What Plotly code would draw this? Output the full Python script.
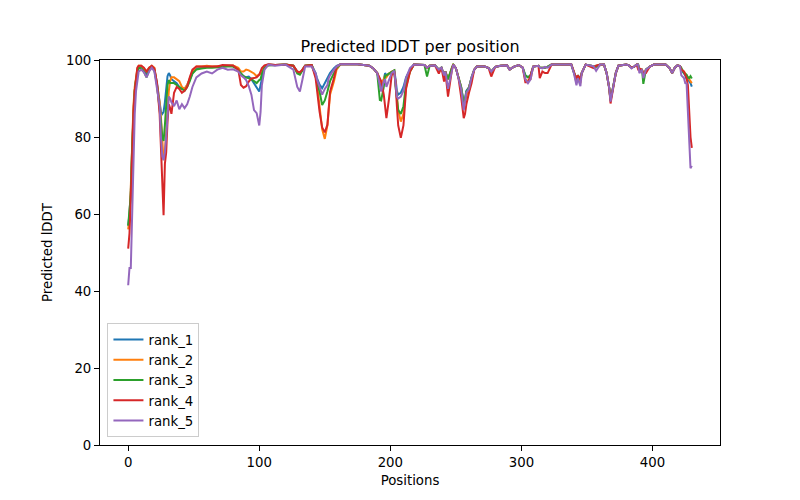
import plotly.graph_objects as go

POS = [0,1,2,3,4,5,6,7,8,10,
       12,14,16,18,20,22,24,25,26,27,
       28,29,30,31,32,33,35,37,39,41,
       43,45,47,49,52,56,60,64,68,72,
       76,80,84,86,88,90,92,94,96,98,
       100,101,102,104,107,112,120,126,129,131,
       133,135,140,143,144,146,148,150,152,153,
       154,157,159,162,175,184,187,190,192,193,
       195,196,197,199,201,203,204,205,206,208,
       210,212,215,218,226,228,230,234,237,239,
       241,242,244,247,248,250,252,254,256,257,
       258,260,262,264,266,272,275,277,280,284,
       289,291,294,298,301,303,305,307,309,313,
       314,316,318,320,323,335,338,340,342,343,
       345,346,349,355,357,360,363,365,367,368,
       370,372,374,380,382,384,386,388,389,390,
       392,393,395,398,401,410,413,415,417,419,
       421,422,424,425,426,427,428,429,430]

RANK_1 = [57,60,66,78,87,92,95.5,97.5,98.3,98.2,
          97.5,96.5,97.8,98.4,97.5,94,89,86.5,86,86.5,
          89,93,95.8,96.6,96,95,94.5,94,93,92.5,
          92.5,93.5,95,96.5,97.8,98,98.2,98.2,98.3,98.5,
          98.5,98.5,97.8,96.5,95.8,95.5,95.7,95,94,93,
          91.8,93.5,95.3,98,98.8,98.7,98.8,98.5,97,96.5,
          97.5,98.5,98.7,96.6,95.3,93.6,92.7,94,95.3,96,
          96.6,97.9,98.5,98.9,98.9,98.5,97.8,96.6,93.5,92.7,
          95,96.6,96,96.5,97,97.3,95,92,91,91.5,
          93,95.5,97.5,98.8,98.7,98,98.5,98.6,97.5,98,
          96,97,95,98,98.8,97.9,95.3,93,89,90,
          92,93,95.5,97.5,98.3,98.3,97.9,97,98.2,98.5,
          98.6,97.5,98.2,98.7,98,96,95.5,96,98.3,98.5,
          98,98,98,98.3,98.8,98.8,98.9,96.8,95,96,
          95,96.6,98.8,98.4,98.5,98.8,98.8,96.6,92.7,89.5,
          92.7,96.6,98.5,98.8,98.6,98,98.3,98.8,98.8,97.5,
          97.5,96,97.5,98.3,98.8,98.8,97.9,96.6,98,98.6,
          98.4,97.5,96.5,96,95,95.5,94.5,94,93.1]

RANK_2 = [56,59,67,80,88,93,96,97.8,98.5,98.5,
          97.8,97,98,98.5,98,94,89,85,78,74,
          76,82,88,92,94.5,95.5,95.5,95,94.5,93,
          92.5,93.5,95.5,97,98.3,98.3,98.5,98.3,98.4,98.5,
          98.5,98.6,98,97,97,97.5,97.3,97,96.5,95.8,
          96.2,96.5,97.3,98.3,98.8,98.7,98.8,98.5,97,96.5,
          97.5,98.5,98.7,96,94,88,82,79.5,83,87,
          91,94.5,97.5,98.9,98.9,98.5,97.8,96.6,95,94,
          95,96,95.5,96.5,97,97.3,94,91,87,84,
          86,93,97,98.8,98.7,98,98.5,98.6,97.5,98,
          96,97,95,98,98.8,97.9,95.3,93,88,89,
          90.5,93,95.5,97.5,98.3,98.3,97.9,97,98.2,98.5,
          98.6,97.5,98.2,98.7,98,95,94.5,95,98.3,98.5,
          98,98,98,98.3,98.8,98.8,98.9,97,94,95.5,
          94,96.6,98.8,98.4,98.5,98.8,98.8,96.6,92.7,89.5,
          92.7,96.6,98.5,98.8,98.6,98,98.3,98.8,98.8,97.5,
          97.5,96,97.5,98.3,98.8,98.8,97.9,96.6,98,98.6,
          98.4,97.5,97,96.5,96,95.5,95,94.7,94]

RANK_3 = [57,61,65,77,86,92,95,97,98,97.8,
          97,95.5,97.5,98.2,97.3,93.5,88,84,80,79,
          83,90,93.5,94.8,94,94,94,93.5,93,92.5,
          92,93,94.5,96.5,97.5,97.8,98,98,98.1,98.3,
          98.3,98.3,97.5,96.5,95.8,95.5,95.3,95,94.5,94,
          94.8,95,96.5,98,98.6,98.7,98.8,98.5,96.5,96.2,
          97.5,98.5,98.7,96,94,91.8,88.3,89.5,91.8,93.6,
          94.5,96.6,97.9,98.9,98.9,98.5,97.8,96.6,89.6,89.5,
          93,96,96,96.5,97,97.3,93,89,87,86,
          88,94,97,98.8,98.7,95.7,98.5,98.6,97.5,98,
          96,97,95,98,98.8,97.9,95.3,93,88.5,89.5,
          91.8,92.7,95.5,97.5,98.3,98.3,97.9,97,98.2,98.5,
          98.6,97.5,98.2,98.7,98,96,95.5,96,98.3,98.5,
          98,98,98,98.3,98.8,98.8,98.9,96.8,95,96,
          95,96.6,98.8,98.4,98.2,98.8,98.8,96.6,92.7,89.5,
          92.7,96.6,98.5,98.8,98.6,98,98.3,98.8,98.8,97.5,
          97.5,93.8,97.5,98.3,98.8,98.8,97.9,96.6,98,98.6,
          98.4,98,96.6,96.5,96.2,95.5,95.3,95.8,95.2]

RANK_4 = [51,55,64,77,86,92,96,98,98.5,98.5,
          98,97,98,98.5,97.8,94,86,78,72,59.7,
          73,76,84,88.5,87.5,86,91.5,93,92.5,91.5,
          92,93,95.5,97.5,98.3,98.3,98.3,98.2,98.3,98.7,
          98.7,98.6,97.5,93.5,92.8,93.2,94.4,95.2,95.3,95.5,
          96.2,97,97.9,98.6,98.9,98.7,98.8,98.5,97,96.8,
          97.5,98.5,98.7,95.3,91.8,86.6,82.5,81.2,83.2,87.5,
          91.8,95.3,98.3,98.9,98.9,98.5,97.8,96.6,95,94.5,
          91,87,84.9,90,96,97,94,88,83,79.8,
          83,92.5,97,98.8,98.7,98,98.5,98.6,96.5,98,
          94.4,97,90.5,97.5,98.8,97.9,95.3,90.5,84.9,86,
          88.5,91.5,94,97.5,98.3,98.3,97.9,95.7,98.2,98.5,
          98.6,97.5,98.2,98.7,98,94.2,94.2,96,98.3,98.5,
          95.3,97,96.6,96.6,98.8,98.8,98.9,97,95,96,
          95,96.6,98.8,97.9,98.5,98.8,98.8,96.6,92.7,88.7,
          92.7,96.6,98.5,98.8,98.6,98,98.3,98.8,97.6,97.8,
          97.5,96.6,96.6,98.3,98.8,98.8,97.9,96.6,98,98.6,
          98.4,97.5,97,96,95.3,93.5,86,80,77.2]

RANK_5 = [41.5,46,46,60,76,86,92,95.5,97,97.5,
          96.8,95.5,97,98,97,92.5,88,80,75,74,
          76,80,86,90.5,90,89,88,89.5,87.2,88.5,
          87.5,88.5,90.5,93,95.5,96.5,97,96.5,97.5,98,
          97.5,97.6,97,96,95.5,94.8,93.2,91,87,86.2,
          83,86.5,93.5,97.5,98.8,98.5,98.8,97.5,93,91.8,
          95,98.3,98.3,96.5,95,92.7,91,92.5,93.5,95.3,
          96,97.5,98.3,98.9,98.9,98.5,97.8,96.6,93,91.8,
          94.5,95,93,95,96.6,97.2,93,90.5,90,90.5,
          92,95.3,97.9,98.8,98.7,98,98.5,98.6,97.5,98,
          96,97,92.5,98,98.8,97.9,95.3,92.5,87,89,
          91.5,92.5,95.5,97.5,98.3,98.3,97.9,97,98.2,98.5,
          98.6,97.5,98.2,98.7,98,95,94,95,98.3,98.5,
          98,97.8,98.2,98,98.8,98.8,98.9,96.6,93.4,95.3,
          93.2,96.6,98.8,98.4,97.2,98.8,98.8,96.6,92.7,89.2,
          92.7,96.6,98.5,98.8,98.6,97.8,98.3,98.8,98.8,96.6,
          97.5,95.3,97.5,98.3,98.8,98.8,97.9,96.6,98,98.6,
          98.4,96,95.3,94,93.9,87,78,71.9,72.5]

NAMES = ["rank_1", "rank_2", "rank_3", "rank_4", "rank_5"]
COLORS = ["#1f77b4", "#ff7f0e", "#2ca02c", "#d62728", "#9467bd"]
SERIES = [RANK_1, RANK_2, RANK_3, RANK_4, RANK_5]
X_TICKS = [0, 100, 200, 300, 400]
Y_TICKS = [0, 20, 40, 60, 80, 100]

fig = go.Figure()
for name, ys, col in zip(NAMES, SERIES, COLORS):
    fig.add_trace(go.Scatter(x=POS, y=ys, mode="lines", name=name,
                             line=dict(color=col, width=2)))

axis_common = dict(showline=True, linecolor="black", linewidth=1, mirror=True,
                   ticks="outside", ticklen=5, tickwidth=1, tickcolor="black",
                   showgrid=False, zeroline=False,
                   tickfont=dict(size=13.3, color="black"))

fig.update_layout(
    width=800, height=500,
    margin=dict(l=92, r=88, t=52, b=63),
    plot_bgcolor="white", paper_bgcolor="white",
    font=dict(family="DejaVu Sans", size=13.3, color="black"),
    title=dict(text="Predicted lDDT per position", x=0.5, xref="paper", xanchor="center",
               y=1 - 38 / 500, yref="container", yanchor="middle",
               font=dict(size=16, color="black")),
    xaxis=dict(range=[-21.5, 451.5], tickvals=X_TICKS,
               title=dict(text="Positions", standoff=6, font=dict(size=13.3)), **axis_common),
    yaxis=dict(range=[0, 100], tickvals=Y_TICKS,
               title=dict(text="Predicted lDDT", standoff=10, font=dict(size=13.3)), **axis_common),
    legend=dict(x=0.012, y=0.02, xanchor="left", yanchor="bottom",
                bordercolor="#cccccc", borderwidth=1, bgcolor="rgba(255,255,255,0.8)",
                font=dict(size=13.3, color="black"), itemwidth=30, tracegroupgap=0),
    showlegend=True,
)

fig.write_html("out.html")
